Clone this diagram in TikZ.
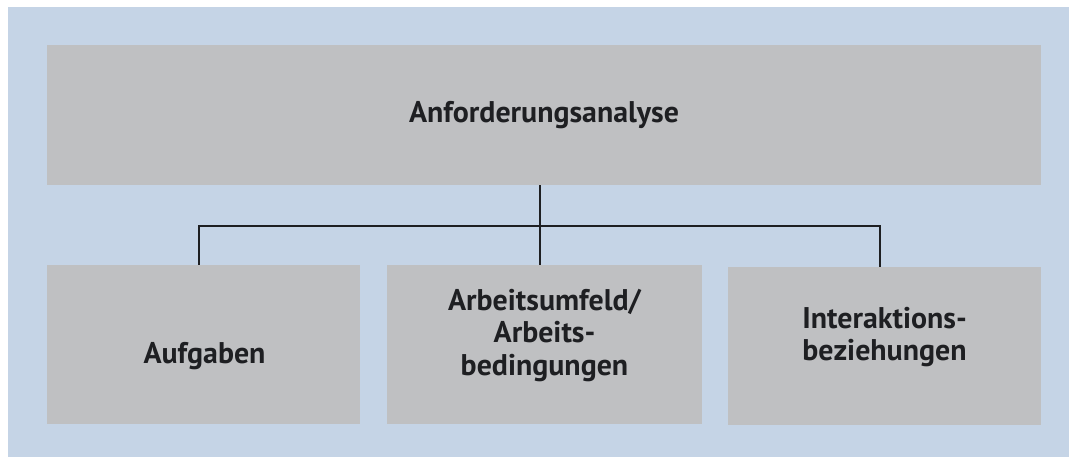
\documentclass[tikz,border=0pt]{standalone}
\usepackage{fontspec}
\setmainfont{PT Sans}
\definecolor{bgblue}{HTML}{C5D4E6}
\definecolor{boxgray}{HTML}{BFC0C2}
\definecolor{ink}{HTML}{1E1F22}
\begin{document}
\begin{tikzpicture}[x=1bp,y=-1bp,
  box/.style={fill=boxgray,draw=none,inner sep=0pt},
  lbl/.style={inner sep=0pt,align=center,text=ink,
    font=\fontsize{30}{33}\selectfont\bfseries},
  link/.style={draw=ink,line width=2.8bp}]
\useasboundingbox (0,0) rectangle (1069,457);
\fill[white] (0,0) rectangle (1069,457);
\fill[bgblue] (8,7) rectangle (1069,457);
\node[box,minimum width=994bp,minimum height=140bp] (top) at (544,115) {};
\node[box,minimum width=313bp,minimum height=159bp] (b1) at (203.5,344.5) {};
\node[box,minimum width=315bp,minimum height=159bp] (b2) at (544.5,344.5) {};
\node[box,minimum width=313bp,minimum height=158bp] (b3) at (884.5,346) {};
\node[lbl] (t0) at (top.center) {Anforderungsanalyse};
\node[lbl] (t1) at ([xshift=1bp,yshift=-12bp]b1.center) {Aufgaben};
\node[lbl] (t2) at ([yshift=9bp]b2.center) {Arbeitsumfeld/\\Arbeits-\\bedingungen};
\node[lbl] (t3) at ([yshift=9bp]b3.center) {Interaktions-\\beziehungen};
\coordinate (cl) at (199,226);
\coordinate (cm) at (540,226);
\coordinate (cr) at (880,226);
\draw[link] (cm |- top.south) -- (cm |- b2.north);
\draw[link] (cl |- b1.north) -- (cl) -- (cr) -- (cr |- b3.north);
\end{tikzpicture}
\end{document}
